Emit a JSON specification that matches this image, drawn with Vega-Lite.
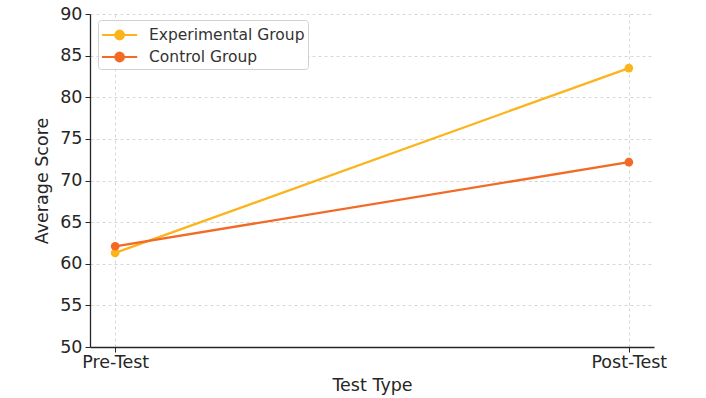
{
  "$schema": "https://vega.github.io/schema/vega-lite/v6.json",
  "autosize": "none",
  "width": 564,
  "height": 333,
  "padding": {"left": 90, "top": 14, "right": 52, "bottom": 51},
  "background": "white",
  "config": {
    "font": "DejaVu Sans",
    "view": {"stroke": null},
    "axis": {
      "labelFont": "DejaVu Sans",
      "titleFont": "DejaVu Sans",
      "labelFontSize": 17.5,
      "titleFontSize": 17.5,
      "titleFontWeight": "normal",
      "labelColor": "#262626",
      "titleColor": "#262626",
      "domainColor": "#262626",
      "domainWidth": 1.3,
      "tickColor": "#262626",
      "tickSize": 5,
      "gridColor": "#cccccc",
      "gridDash": [3, 3],
      "gridWidth": 0.8
    }
  },
  "data": {
    "values": [
      {"test": "Pre-Test", "group": "Experimental Group", "score": 61.3},
      {"test": "Post-Test", "group": "Experimental Group", "score": 83.5},
      {"test": "Pre-Test", "group": "Control Group", "score": 62.1},
      {"test": "Post-Test", "group": "Control Group", "score": 72.2}
    ]
  },
  "mark": {"type": "line", "point": {"size": 75, "filled": true, "opacity": 1}, "strokeWidth": 2.3},
  "encoding": {
    "x": {
      "field": "test",
      "type": "ordinal",
      "sort": ["Pre-Test", "Post-Test"],
      "scale": {"type": "point", "padding": 0.049},
      "axis": {"title": "Test Type", "labelAngle": 0, "labelPadding": 1, "titlePadding": 6, "grid": true}
    },
    "y": {
      "field": "score",
      "type": "quantitative",
      "scale": {"domain": [50, 90], "nice": false, "zero": false},
      "axis": {"title": "Average Score", "values": [50, 55, 60, 65, 70, 75, 80, 85, 90], "labelPadding": 3, "titlePadding": 8, "grid": true}
    },
    "color": {
      "field": "group",
      "type": "nominal",
      "sort": ["Experimental Group", "Control Group"],
      "scale": {"domain": ["Experimental Group", "Control Group"], "range": ["#FBB41C", "#F26A25"]},
      "legend": {
        "title": null,
        "orient": "none",
        "legendX": 8,
        "legendY": 6,
        "direction": "vertical",
        "labelFont": "DejaVu Sans",
        "labelFontSize": 15.5,
        "labelColor": "#333333",
        "symbolType": "M-1,0L2.2,0M1,0A0.4,0.4 0 1,1 0.2,0A0.4,0.4 0 1,1 1,0Z",
        "symbolSize": 484,
        "symbolStrokeWidth": 2,
        "symbolFillColor": null,
        "rowPadding": 1,
        "labelOffset": 24,
        "padding": 3,
        "fillColor": "white",
        "strokeColor": "#d0d0d0",
        "cornerRadius": 3
      }
    }
  }
}
